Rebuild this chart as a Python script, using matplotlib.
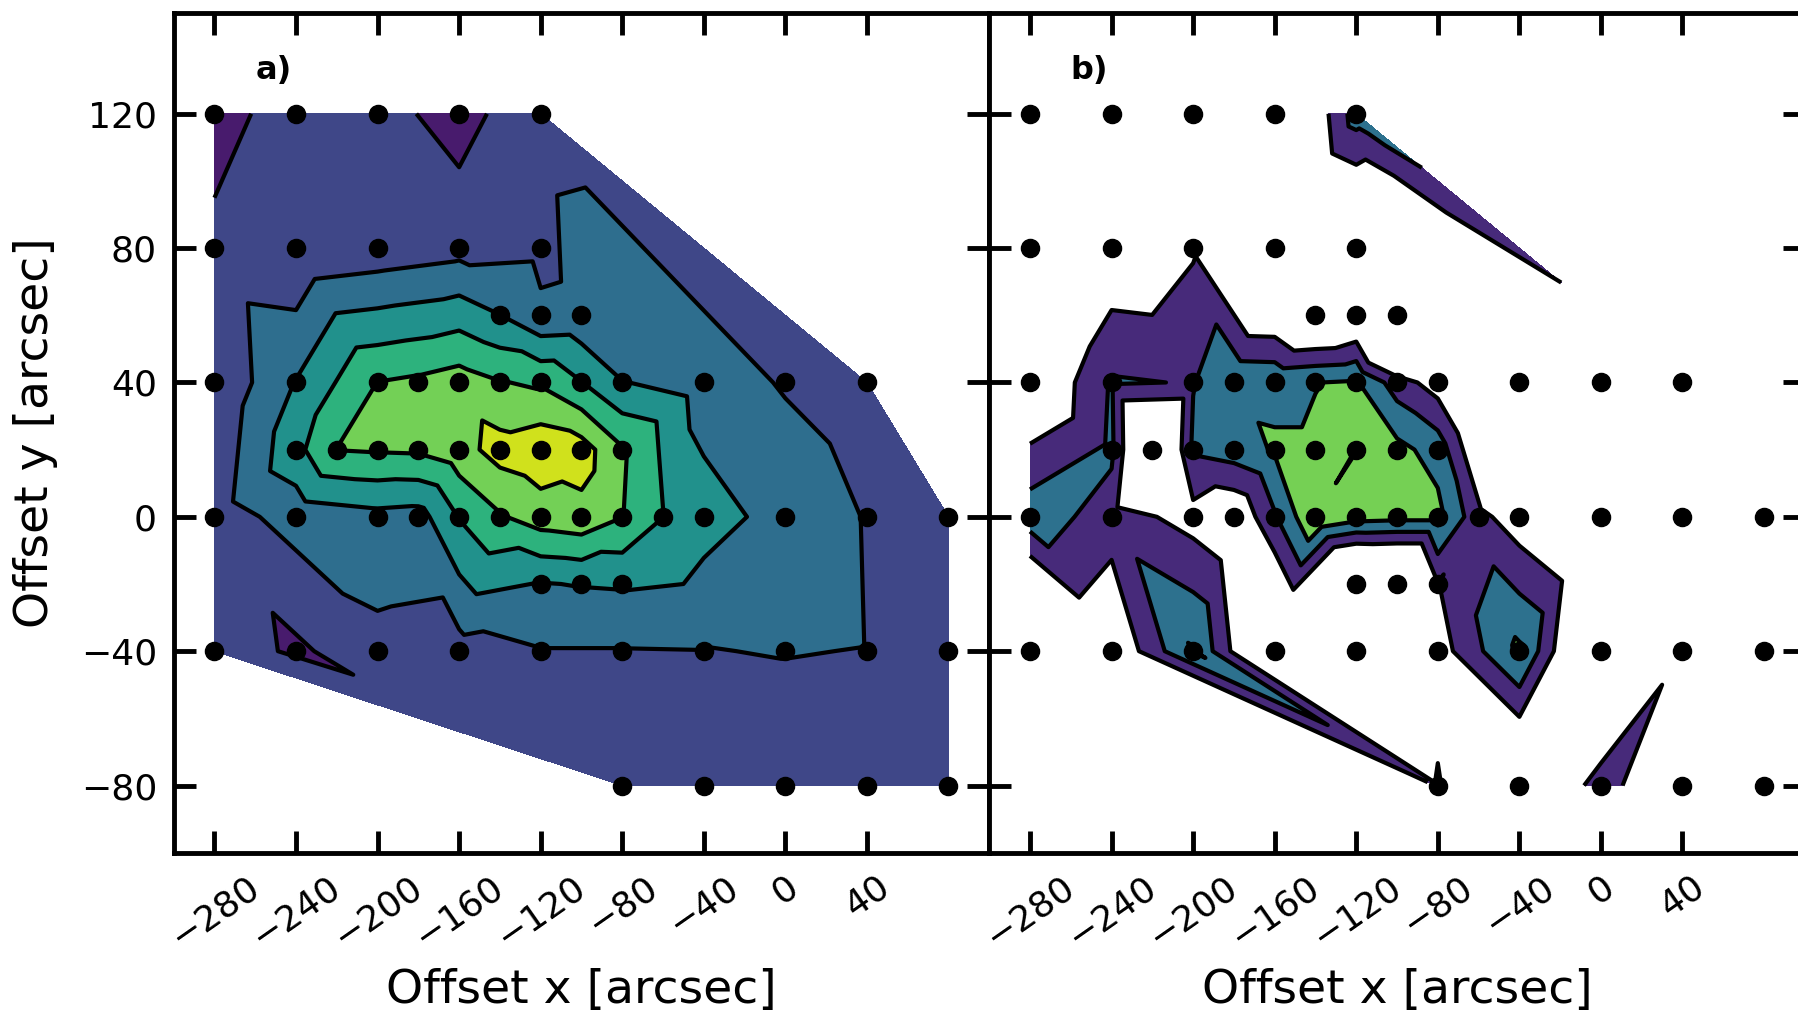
import numpy as np
import matplotlib.pyplot as plt
import matplotlib.tri as mtri

# pointing offsets in arcsec, listed row by row from the top (y = 120 ... -80)
x_off = [-280, -240, -200, -160, -120,
         -280, -240, -200, -160, -120,
         -140, -120, -100,
         -280, -240, -200, -180, -160, -140, -120, -100, -80, -40, 0, 40,
         -240, -220, -200, -180, -160, -140, -120, -100, -80,
         -280, -240, -200, -180, -160, -140, -120, -100, -80, -60, -40, 0, 40, 80,
         -120, -100, -80,
         -280, -240, -200, -160, -120, -80, -40, 0, 40, 80,
         -80, -40, 0, 40, 80]
y_off = [120] * 5 + [80] * 5 + [60] * 3 + [40] * 12 + [20] * 9 + [0] * 14 + [-20] * 3 + [-40] * 10 + [-80] * 5

# panel a) values (same order as the offsets)
z_a = [0.55, 1.55, 1.39, 0.57, 1.83,
       1.27, 1.1, 1.36, 1.65, 1.75,
       3.02, 2.17, 2.25,
       1.1, 3.05, 5.02, 5.2, 5.48, 5.05, 4.85, 4.03, 3.05, 2.45, 1.92, 1.5,
       3.7, 5.02, 5.1, 5.15, 5.6, 6.4, 6.7, 6.45, 5.12,
       1.5, 2.4, 2.7, 2.6, 4.05, 4.9, 5.5, 5.7, 5.03, 4.02, 3.45, 2.6, 1.95, 1.5,
       2.95, 3.05, 3.1,
       1.7, 0.8, 1.7, 1.6, 1.95, 1.95, 1.98, 2.03, 1.98, 1.5,
       1.94, 1.5, 1.5, 1.5, 1.5]

# panel b) values (below 0 is left blank)
z_b = [-3, -3, -3, -2.85, 1.47,
       -3, -0.94, -0.12, -3.5, -2.4,
       -2, -1.35, -5,
       -1.34, 1.1, 0.95, 1.85, 1.8, 1.98, 2.1, 0.5, -0.5, -4.9, -2.53, -0.87,
       1.2, -3, 1.2, 1.5, 2.1, 2.1, 3.02, 2.3, 1.6,
       1.6, 0.5, -0.4, -1, 0.9, 2.98, 2.4, 2.3, 2.3, 0.3, -0.6, -2, -2, -2,
       -3.6, -3.5, -0.05,
       -3.9, -1.06, 2.1, -2.5, -3, -0.5, 2.2, -3, -0.2, -2,
       0.1, -2.3, 0.6, -1.66, -2]

levels_a = [0, 1, 2, 3, 4, 5, 6, 7]
levels_b = [0, 1, 2, 3, 4]
colors_b = [plt.cm.viridis(v) for v in (0.12, 0.37, 0.79, 0.93)]

xticks = [-280, -240, -200, -160, -120, -80, -40, 0, 40]
yticks = [-80, -40, 0, 40, 80, 120]

# Delaunay mesh of the pointings; a few square cells are ambiguous, pick the
# diagonals that the original map used
tris = [list(t) for t in mtri.Triangulation(x_off, y_off).triangles]
index = {p: k for k, p in enumerate(zip(x_off, y_off))}


def make_edge(p, q):
    i, j = index[p], index[q]
    if any(i in t and j in t for t in tris):
        return
    for a, ta in enumerate(tris):
        if i not in ta:
            continue
        for b, tb in enumerate(tris):
            if j not in tb:
                continue
            shared = list(set(ta) & set(tb))
            if len(shared) == 2:
                tris[a] = [i, j, shared[0]]
                tris[b] = [i, j, shared[1]]
                return


make_edge((-200, 120), (-160, 80))
make_edge((-120, 120), (-160, 80))
make_edge((-280, 80), (-240, 40))
make_edge((-200, 40), (-240, 80))
make_edge((-240, 0), (-200, -40))
make_edge((-160, 40), (-140, 20))
make_edge((-160, 20), (-140, 0))
make_edge((-120, 20), (-140, 0))
tri = mtri.Triangulation(x_off, y_off, triangles=tris)

fig = plt.figure(figsize=(17.98, 10.15), dpi=100)
ax1 = fig.add_axes([0.0966, 0.1599, 0.4536, 0.8273])
ax2 = fig.add_axes([0.5502, 0.1599, 0.4536, 0.8273], sharey=ax1)

ax1.tricontourf(tri, z_a, levels=levels_a, cmap="viridis")
ax1.tricontour(tri, z_a, levels=levels_a, colors="k", linewidths=3)

ax2.tricontourf(tri, z_b, levels=levels_b, colors=colors_b)
ax2.tricontour(tri, z_b, levels=levels_b, colors="k", linewidths=3)

for ax, tag in ((ax1, "a)"), (ax2, "b)")):
    ax.scatter(x_off, y_off, s=170, c="k", zorder=3)
    ax.set_xlim(-300, 100)
    ax.set_ylim(-100, 150)
    ax.set_xticks(xticks)
    ax.set_yticks(yticks)
    ax.tick_params(direction="in", top=True, right=True, length=16, width=3.5,
                   labelsize=26, pad=12)
    plt.setp(ax.get_xticklabels(), rotation=35)
    for s in ax.spines.values():
        s.set_linewidth(3.5)
    ax.set_xlabel("Offset x [arcsec]", fontsize=34, labelpad=10)
    ax.text(-260, 133, tag, fontsize=23, fontweight="bold", va="center")

ax1.set_ylabel("Offset y [arcsec]", fontsize=34, labelpad=16)
ax2.tick_params(labelleft=False)

fig.savefig("out.png", dpi=100)
